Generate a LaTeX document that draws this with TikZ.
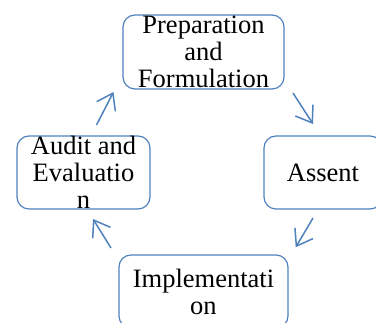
\documentclass[tikz,border=0pt]{standalone}
\usepackage{fontspec}
\setmainfont{Liberation Serif}
\usetikzlibrary{arrows.meta}
\definecolor{wordblue}{RGB}{79,129,189}
\tikzset{
  stage/.style={draw=wordblue, line width=1.2pt, rounded corners=12pt, inner sep=0pt,
    align=center, font=\fontsize{26.5}{27}\selectfont},
  cyc/.style={draw=wordblue, line width=1.5pt, -{Straight Barb[length=15pt,width=21pt,line width=1.5pt]}}
}
\begin{document}
\begin{tikzpicture}[x=1pt,y=1pt]
\useasboundingbox (0,0) rectangle (376,323);
\clip (0,0) rectangle (376,323);
\node[stage, minimum width=161pt, minimum height=74pt] (prep) at (203.5,271) {Preparation\\and\\Formulation};
\node[stage, minimum width=133pt, minimum height=73pt] (audit) at (83.5,150.5) {Audit and\\Evaluatio\\n};
\node[stage, minimum width=118pt, minimum height=73pt] (assent) at (323,150.5) {Assent};
\node[stage, minimum width=169pt, minimum height=73pt] (impl) at (203.5,31.5) {Implementati\\on};
\coordinate (a1s) at (96.5,198); \coordinate (a1e) at (113.5,231);
\coordinate (a2s) at (293,230); \coordinate (a2e) at (313,199);
\coordinate (a3s) at (313,105); \coordinate (a3e) at (295.7,75.7);
\coordinate (a4s) at (111,75); \coordinate (a4e) at (93,104);
\draw[cyc] (a1s) -- (a1e);
\draw[cyc] (a2s) -- (a2e);
\draw[cyc] (a3s) -- (a3e);
\draw[cyc] (a4s) -- (a4e);
\end{tikzpicture}
\end{document}
